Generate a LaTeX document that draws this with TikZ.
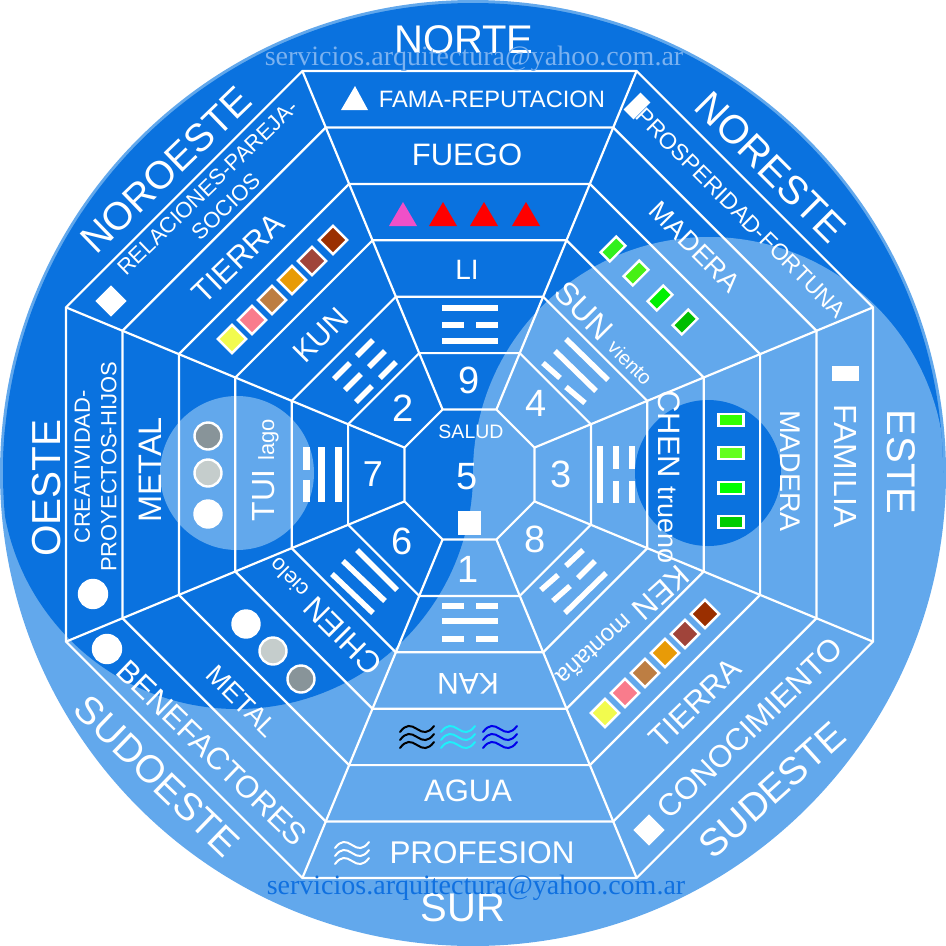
\documentclass[tikz,border=0pt]{standalone}
\usepackage{fontspec}
\setmainfont{Liberation Sans}
\newfontfamily\mailfont{Liberation Serif}
\newcommand\fs[1]{\fontsize{#1}{#1}\selectfont}
\definecolor{darkb}{HTML}{0A72DF}
\definecolor{lightb}{HTML}{62A8EC}
\definecolor{mailtop}{HTML}{7BB2F0}
\definecolor{mailbot}{HTML}{0F70E0}
\definecolor{wavecyan}{RGB}{30,240,250}
\definecolor{waveblue}{RGB}{0,0,235}
\tikzset{
  txt/.style={text=white,inner sep=0pt,anchor=center,align=center},
  wline/.style={draw=white,line width=2.2pt,line join=miter},
  bar/.style={draw=white,line width=5.5pt,line cap=butt},
  swatch/.style={draw=white,line width=2.4pt,minimum size=20pt,inner sep=0pt,rotate=45},
  gbox/.style={draw=white,line width=2.6pt,minimum width=25pt,minimum height=12pt,inner sep=0pt},
  gboxne/.style={draw=white,line width=2.4pt,minimum width=22pt,minimum height=13pt,inner sep=0pt,rotate=45},
  coin/.style={circle,draw=white,line width=2.4pt,minimum size=27pt,inner sep=0pt},
  wave/.style={line width=2pt,line cap=round}
}
\newcommand\wavesym[3]{%
  \foreach \d in {-8,0,8}{
    \draw[wave,draw=#3] (#1-17,#2+\d+3) .. controls (#1-11,#2+\d-5) and (#1-6,#2+\d-4) .. (#1,#2+\d) .. controls (#1+6,#2+\d+4) and (#1+11,#2+\d+5) .. (#1+17,#2+\d-3);
  }}
\begin{document}
\begin{tikzpicture}[x=1pt,y=-1pt]
\useasboundingbox (0,0) rectangle (946,946);
% disc
\fill[lightb] (473,473) circle (473);
\begin{scope}
  \clip (473,473) circle (470);
  \fill[darkb] (0,0) rectangle (946,473);
  \fill[darkb] (237,473) circle (236);
  \fill[lightb] (709,473) circle (236);
\end{scope}
\fill[lightb] (237,473) circle (77);
\fill[darkb] (708,473) circle (73);
% octagons
\begin{scope}[shift={(469.5,474.5)}]
  \foreach \a in {65,121.4,177.8,234.2,290.6,347,403.5}{
    \pgfmathsetmacro\r{\a/cos(22.5)}
    \draw[wline] (22.5:\r) -- (67.5:\r) -- (112.5:\r) -- (157.5:\r) -- (202.5:\r) -- (247.5:\r) -- (292.5:\r) -- (337.5:\r) -- cycle;
  }
  \pgfmathsetmacro\ra{65/cos(22.5)}
  \pgfmathsetmacro\rb{403.5/cos(22.5)}
  \foreach \t in {22.5,67.5,112.5,157.5,202.5,247.5,292.5,337.5}{
    \draw[wline] (\t:\ra) -- (\t:\rb);
  }
\end{scope}
% compass
\node[txt,font=\fs{40}] (norte) at (464,40) {NORTE};
\node[txt,font=\fs{40}] (sur) at (463,908) {SUR};
\node[txt,font=\fs{40.5},rotate=90] (oeste) at (47,488) {OESTE};
\node[txt,font=\fs{40},rotate=-90] (este) at (901,462) {ESTE};
\node[txt,font=\fs{39},rotate=44] (noroeste) at (166,170) {NOROESTE};
\node[txt,font=\fs{40},rotate=-45] (noreste) at (771,167) {NORESTE};
\node[txt,font=\fs{38.5},rotate=-44] (sudoeste) at (157,776) {SUDOESTE};
\node[txt,font=\fs{38.5},rotate=42] (sudeste) at (772,790) {SUDESTE};
% mail
\node[txt,text=mailtop,font=\mailfont\fs{28}] (mailtopn) at (474,59) {servicios.arquitectura@yahoo.com.ar};
\node[txt,text=mailbot,font=\mailfont\fs{28}] (mailbotn) at (476,888) {servicios.arquitectura@yahoo.com.ar};
% north
\fill[white] (355,86) -- (368,110) -- (341,110) -- cycle;
\node[txt,font=\fs{23.7}] (fama) at (492,99) {FAMA-REPUTACION};
\node[txt,font=\fs{31}] (fuego) at (467,155) {FUEGO};
\fill[fill={rgb,255:red,240;green,80;blue,200}] (403,202) -- (417,226) -- (389,226) -- cycle;
\foreach \x in {443,484,526}{\fill[red] (\x,202) -- (\x+14,226) -- (\x-14,226) -- cycle;}
\node[txt,font=\fs{28}] (li) at (467,270) {LI};
\draw[bar] (442,308) -- (498,308);
\draw[bar] (442,325) -- (464,325); \draw[bar] (476,325) -- (498,325);
\draw[bar] (442,341) -- (498,341);
\node[txt,font=\fs{38}] (nine) at (469,380) {9};
% centre
\node[txt,font=\fs{19.5}] (salud) at (471,432) {SALUD};
\node[txt,font=\fs{38}] (five) at (467,477) {5};
\fill[white] (458,511) rectangle (481,535);
% south
\node[txt,font=\fs{38}] (one) at (468,569) {1};
\draw[bar] (442,606) -- (464,606); \draw[bar] (476,606) -- (498,606);
\draw[bar] (442,621) -- (498,621);
\draw[bar] (442,639) -- (464,639); \draw[bar] (476,639) -- (498,639);
\node[txt,font=\fs{30},rotate=180] (kan) at (468,684) {KAN};
\wavesym{417}{737}{black}
\wavesym{458}{737}{wavecyan}
\wavesym{500}{737}{waveblue}
\node[txt,font=\fs{31}] (agua) at (468,791) {AGUA};
\wavesym{352}{853}{white}
\node[txt,font=\fs{31.4}] (profesion) at (482,853) {PROFESION};
% west
\node[txt,font=\fontsize{22}{26.5}\selectfont,rotate=90] (creat) at (95.5,467) {CREATIVIDAD-\\PROYECTOS-HIJOS};
\node[coin,fill=white,minimum size=28pt] (c1) at (93,594) {};
\node[txt,font=\fs{32.5},rotate=90] (metalw) at (150,470) {METAL};
\node[coin,fill={rgb,255:red,136;green,148;blue,153}] (c2) at (208,436) {};
\node[coin,fill={rgb,255:red,197;green,205;blue,204}] (c3) at (208,473) {};
\node[coin,fill=white] (c4) at (208,514) {};
\node[txt,rotate=90] (tui) at (265.5,470) {\fs{32}TUI \fs{22}lago};
\draw[bar,line width=6.5pt] (306.5,447) -- (306.5,470); \draw[bar,line width=6.5pt] (306.5,480) -- (306.5,502);
\draw[bar,line width=6.5pt] (321.5,447) -- (321.5,502);
\draw[bar,line width=6.5pt] (338.5,447) -- (338.5,502);
\node[txt,font=\fs{36}] (seven) at (373,474) {7};
% northwest
\node[txt,font=\fontsize{22}{27}\selectfont,rotate=44] (rela) at (217,197) {RELACIONES-PAREJA-\\SOCIOS};
\node[fill=white,minimum size=22pt,inner sep=0pt,rotate=45] (dnw) at (111,301) {};
\node[txt,font=\fs{31},rotate=44] (tierranw) at (238,258) {TIERRA};
\node[swatch,fill={rgb,255:red,242;green,251;blue,78}] (s1) at (232,339) {};
\node[swatch,fill={rgb,255:red,249;green,124;blue,140}] (s2) at (252,320) {};
\node[swatch,fill={rgb,255:red,189;green,126;blue,67}] (s3) at (272,300) {};
\node[swatch,fill={rgb,255:red,232;green,155;blue,7}] (s4) at (292,280) {};
\node[swatch,fill={rgb,255:red,160;green,68;blue,58}] (s5) at (312,261) {};
\node[swatch,fill={rgb,255:red,154;green,47;blue,0}] (s6) at (333,240) {};
\node[txt,font=\fs{30},rotate=45] (kun) at (321,335) {KUN};
\foreach \p/\q in {357/356,369/367,380/378,334/379,345/390,356/402}{
  \draw[bar] (\p,\q) -- (\p+16,\q-16);
}
\node[txt,font=\fs{38}] (two) at (403,408) {2};
% southwest
\node[txt,font=\fs{38}] (six) at (402,541) {6};
\draw[bar] (332,574) -- (373,613);
\draw[bar] (343,561) -- (385,601);
\draw[bar] (357,550) -- (397,590);
\node[txt,rotate=135] (chien) at (324,617) {\fs{31}CHIEN \fs{22}cielo};
\node[coin,fill=white] (c5) at (246,624) {};
\node[coin,fill={rgb,255:red,197;green,205;blue,204}] (c6) at (273,651) {};
\node[coin,fill={rgb,255:red,136;green,148;blue,153}] (c7) at (301,679) {};
\node[txt,font=\fs{27},rotate=-45] (metalsw) at (242,701) {METAL};
\node[txt,font=\fs{31},rotate=-44] (bene) at (212,753) {BENEFACTORES};
\node[coin,fill=white,minimum size=28pt] (c8) at (107,649) {};
% southeast
\node[txt,font=\fs{38}] (eight) at (535,539) {8};
\draw[bar] (541,590) -- (558,575); \draw[bar] (566,566) -- (583,550);
\draw[bar] (553,601) -- (570,586); \draw[bar] (578,578) -- (595,561);
\draw[bar] (565,613) -- (606,573);
\node[txt,rotate=222] (ken) at (623,627) {\fs{31}KEN \fs{24}montaña};
\node[swatch,fill={rgb,255:red,242;green,251;blue,78}] (s7) at (605,713) {};
\node[swatch,fill={rgb,255:red,249;green,124;blue,140}] (s8) at (625,693) {};
\node[swatch,fill={rgb,255:red,189;green,126;blue,67}] (s9) at (645,673) {};
\node[swatch,fill={rgb,255:red,232;green,155;blue,7}] (s10) at (665,653) {};
\node[swatch,fill={rgb,255:red,160;green,68;blue,58}] (s11) at (685,634) {};
\node[swatch,fill={rgb,255:red,154;green,47;blue,0}] (s12) at (705,614) {};
\node[txt,font=\fs{31},rotate=44] (tierrase) at (695,703) {TIERRA};
\node[txt,font=\fs{31},rotate=44] (cono) at (750,728) {CONOCIMIENTO};
\node[fill=white,minimum size=22pt,inner sep=0pt,rotate=45] (dse) at (649,830) {};
% east
\node[txt,font=\fs{38}] (three) at (561,474) {3};
\draw[bar] (600,446) -- (600,503);
\draw[bar] (616,446) -- (616,469); \draw[bar] (616,481) -- (616,503);
\draw[bar] (632,446) -- (632,469); \draw[bar] (632,481) -- (632,503);
\node[txt,rotate=-90] (chen) at (669,477) {\fs{31}CHEN \fs{27}trueno};
\node[gbox,fill={rgb,255:red,50;green,255;blue,0}] (g1) at (731,420) {};
\node[gbox,fill={rgb,255:red,100;green,255;blue,30}] (g2) at (731,453) {};
\node[gbox,fill={rgb,255:red,0;green,255;blue,0}] (g3) at (731,488) {};
\node[gbox,fill={rgb,255:red,0;green,204;blue,0}] (g4) at (731,522) {};
\node[txt,font=\fs{28.5},rotate=-90] (maderae) at (790,471) {MADERA};
\fill[white] (832,366) rectangle (859,381);
\node[txt,font=\fs{32},rotate=-90] (familia) at (846,466) {FAMILIA};
% northeast
\node[txt,font=\fs{38}] (four) at (536,403) {4};
\draw[bar] (543,363) -- (560,378); \draw[bar] (566,387) -- (585,403);
\draw[bar] (555,351) -- (596,391);
\draw[bar] (566,339) -- (608,380);
\node[txt,rotate=-45] (sun) at (606,333) {\fs{32}SUN \fs{20}viento};
\node[gboxne,fill={rgb,255:red,50;green,240;blue,30}] (g5) at (613,249) {};
\node[gboxne,fill={rgb,255:red,70;green,240;blue,20}] (g6) at (636,273) {};
\node[gboxne,fill={rgb,255:red,0;green,240;blue,0}] (g7) at (660,298) {};
\node[gboxne,fill={rgb,255:red,0;green,190;blue,0}] (g8) at (685,322) {};
\node[txt,font=\fs{27},rotate=-45] (maderane) at (695,247) {MADERA};
\node[txt,font=\fs{23},rotate=-45] (prosp) at (741,213) {PROSPERIDAD-FORTUNA};
\node[fill=white,minimum width=24pt,minimum height=14pt,inner sep=0pt,rotate=45] (rne) at (637,106) {};
\end{tikzpicture}
\end{document}
